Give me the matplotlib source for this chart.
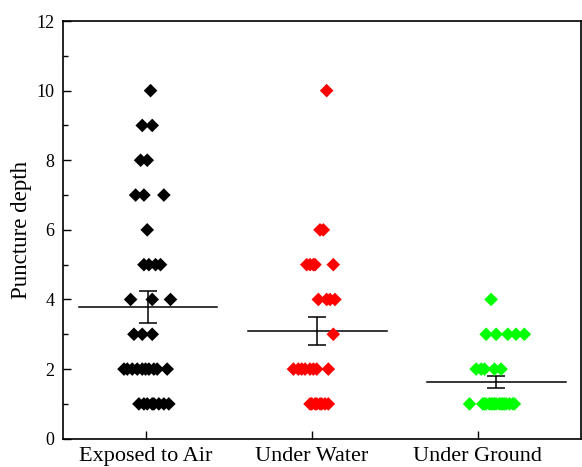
import matplotlib
matplotlib.use('Agg')
import matplotlib.pyplot as plt
import numpy as np

plt.rcParams['font.family'] = ['Liberation Serif', 'DejaVu Serif']

groups = ['Exposed to Air', 'Under Water', 'Under Ground']
colors = ['black', '#ff0000', '#00ff00']

# puncture depth values per group, with the horizontal jitter
air_values = [10, 9, 9, 8, 8, 7, 7, 7, 6, 5, 5, 5, 5, 4, 4, 4, 3, 3, 3,
              2, 2, 2, 2, 2, 2, 2, 2, 2, 2, 1, 1, 1, 1, 1, 1, 1, 1]
air_jitter = [0.03, -0.02, 0.04, -0.03, 0.01, -0.06, -0.01, 0.11, 0.01,
              -0.01, 0.02, 0.06, 0.09, -0.09, 0.04, 0.15, -0.07, -0.02, 0.04,
              -0.13, -0.11, -0.08, -0.05, -0.02, 0.0, 0.02, 0.05, 0.07, 0.13,
              -0.04, -0.01, 0.01, 0.04, 0.05, 0.08, 0.11, 0.14]

water_values = [10, 6, 6, 5, 5, 5, 5, 5, 4, 4, 4, 4, 3,
                2, 2, 2, 2, 2, 2, 2, 2, 1, 1, 1, 1, 1, 1, 1, 1]
water_jitter = [0.09, 0.05, 0.07, -0.03, -0.01, 0.01, 0.02, 0.13,
                0.04, 0.09, 0.11, 0.14, 0.13,
                -0.11, -0.08, -0.06, -0.04, -0.01, 0.01, 0.03, 0.10,
                -0.01, 0.0, 0.02, 0.03, 0.05, 0.06, 0.08, 0.10]

ground_values = [4, 3, 3, 3, 3, 3, 2, 2, 2, 2, 2,
                 1, 1, 1, 1, 1, 1, 1, 1, 1, 1, 1, 1, 1, 1, 1, 1, 1]
ground_jitter = [0.08, 0.05, 0.11, 0.18, 0.23, 0.28,
                 -0.01, 0.02, 0.04, 0.10, 0.14,
                 -0.05, 0.03, 0.04, 0.05, 0.07, 0.08, 0.09, 0.10, 0.11,
                 0.13, 0.14, 0.15, 0.16, 0.17, 0.19, 0.21, 0.22]

all_values = [air_values, water_values, ground_values]
all_jitter = [air_jitter, water_jitter, ground_jitter]

fig = plt.figure(figsize=(5.82, 4.67), dpi=100)
ax = fig.add_axes([0.1074, 0.0606, 0.8906, 0.8944])

for i, (vals, jit, col) in enumerate(zip(all_values, all_jitter, colors)):
    pos = i + 1
    vals = np.array(vals, dtype=float)
    xs = pos + np.array(jit)
    mean = vals.mean()
    sem = vals.std(ddof=1) / np.sqrt(len(vals))
    xm = xs.mean()
    ax.plot([xm - 0.417, xm + 0.417], [mean, mean], color='black', lw=1.1, zorder=2)
    ax.errorbar(xm, mean, yerr=sem, color='black', lw=1.1, capsize=6.4,
                capthick=1.1, zorder=2)
    ax.scatter(xs, vals, marker='D', s=48, color=col, edgecolors='none', zorder=3)

ax.set_xlim(0.5, 3.62)
ax.set_ylim(0, 12)
ax.set_xticks([1, 2, 3])
ax.set_xticklabels(groups, fontsize=16)
ax.set_yticks(np.arange(0, 13, 2))
ax.set_yticks(np.arange(1, 12, 2), minor=True)
ax.tick_params(axis='y', which='major', direction='in', length=6, width=1,
               labelsize=13, pad=6)
ax.tick_params(axis='y', which='minor', direction='in', length=3.5, width=1)
ax.tick_params(axis='x', which='major', direction='in', length=6, width=1, pad=6)
ax.set_ylabel('Puncture depth', fontsize=16.5, labelpad=3)
for sp in ax.spines.values():
    sp.set_linewidth(1.2)

fig.savefig('out.png', dpi=100)
